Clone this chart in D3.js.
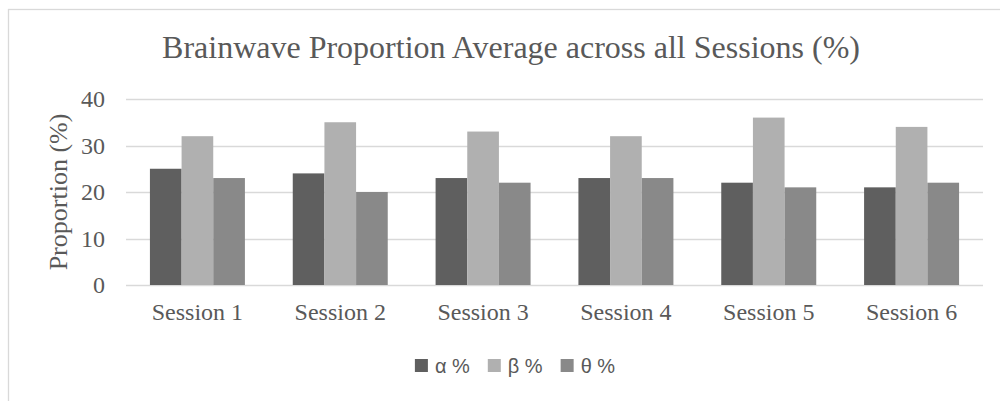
<!DOCTYPE html>
<html>
<head>
<meta charset="utf-8">
<script src="https://cdn.jsdelivr.net/npm/d3@7"></script>
<style>
  html, body { margin: 0; padding: 0; background: #fff; }
  svg { display: block; }
</style>
</head>
<body>
<svg id="chart" width="1000" height="401"></svg>
<script>
const categories = ["Session 1", "Session 2", "Session 3", "Session 4", "Session 5", "Session 6"];
const seriesNames = ["α %", "β %", "θ %"];
const alphaValues = [25, 24, 23, 23, 22, 21];
const betaValues  = [32, 35, 33, 32, 36, 34];
const thetaValues = [23, 20, 22, 23, 21, 22];
const yTicks = [0, 10, 20, 30, 40];
const titleText = "Brainwave Proportion Average across all Sessions (%)";
const yAxisLabel = "Proportion (%)";

const seriesValues = [alphaValues, betaValues, thetaValues];
const colors = ["#5f5f5f", "#b0b0b0", "#898989"];
const textColor = "#595959";
const gridColor = "#d9d9d9";
const serif = "'Liberation Serif', 'Times New Roman', serif";
const sans = "'Liberation Sans', Arial, sans-serif";

const svg = d3.select("#chart");

// chart border
svg.append("rect")
  .attr("x", 8.5).attr("y", 9.5)
  .attr("width", 1100).attr("height", 500)
  .attr("fill", "#fff").attr("stroke", gridColor).attr("stroke-width", 1.3);

const plot = { left: 126, right: 983, top: 99, bottom: 285 };

const x = d3.scaleBand().domain(categories)
  .range([plot.left, plot.right]).paddingInner(0.335).paddingOuter(0.1675);
const xs = d3.scaleBand().domain(d3.range(seriesNames.length))
  .range([0, x.bandwidth()]).padding(0);
const y = d3.scaleLinear().domain([0, 40]).range([plot.bottom, plot.top]);

// gridlines
svg.append("g").selectAll("line").data(yTicks).join("line")
  .attr("x1", plot.left).attr("x2", plot.right)
  .attr("y1", d => Math.round(y(d)) + 0.5).attr("y2", d => Math.round(y(d)) + 0.5)
  .attr("stroke", gridColor).attr("stroke-width", 1.3);

// y tick labels
svg.append("g").selectAll("text").data(yTicks).join("text")
  .attr("x", 105).attr("y", d => y(d))
  .attr("dy", "0.35em")
  .attr("text-anchor", "end")
  .attr("font-family", serif).attr("font-size", 24)
  .attr("fill", textColor)
  .text(d => d);

// bars
const groups = svg.append("g").selectAll("g").data(categories).join("g")
  .attr("transform", d => `translate(${x(d)},0)`);
groups.selectAll("rect")
  .data((c, i) => seriesValues.map((s, k) => ({ k, v: s[i] })))
  .join("rect")
  .attr("x", d => xs(d.k))
  .attr("width", xs.bandwidth())
  .attr("y", d => y(d.v))
  .attr("height", d => y(0) - y(d.v))
  .attr("fill", d => colors[d.k]);

// x labels
svg.append("g").selectAll("text").data(categories).join("text")
  .attr("x", d => x(d) + x.bandwidth() / 2)
  .attr("y", 320)
  .attr("text-anchor", "middle")
  .attr("font-family", serif).attr("font-size", 24)
  .attr("fill", textColor)
  .text(d => d);

// title
svg.append("text")
  .attr("x", 511).attr("y", 58)
  .attr("text-anchor", "middle")
  .attr("font-family", serif).attr("font-size", 32)
  .attr("fill", textColor)
  .text(titleText);

// y axis label
svg.append("text")
  .attr("transform", `translate(67,192) rotate(-90)`)
  .attr("text-anchor", "middle")
  .attr("font-family", serif).attr("font-size", 26)
  .attr("fill", textColor)
  .text(yAxisLabel);

// legend
const legend = svg.append("g");
const items = legend.selectAll("g").data(seriesNames).join("g");
items.append("rect")
  .attr("width", 13).attr("height", 13)
  .attr("y", -13.5)
  .attr("fill", (d, i) => colors[i]);
items.append("text")
  .attr("x", 20).attr("y", 0)
  .attr("font-family", sans).attr("font-size", 20)
  .attr("fill", textColor)
  .text(d => d);
let cx = 0;
items.each(function() {
  d3.select(this).attr("transform", `translate(${cx},0)`);
  const w = this.querySelector("text").getComputedTextLength();
  cx += 20 + w + 18;
});
const totalW = cx - 18;
legend.attr("transform", `translate(${515 - totalW / 2},372.5)`);
</script>
</body>
</html>
